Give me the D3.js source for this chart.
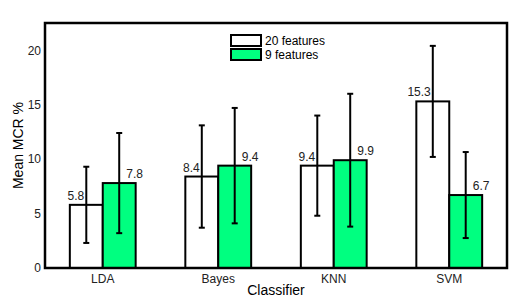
<!DOCTYPE html>
<html>
<head>
<meta charset="utf-8">
<script src="https://d3js.org/d3.v7.min.js"></script>
<style>
  body { margin: 0; background: #fff; }
  text { font-family: "Liberation Sans", Arial, sans-serif; }
</style>
</head>
<body>
<svg width="529" height="301"></svg>
<script>
const classifiers = ["LDA", "Bayes", "KNN", "SVM"];
const seriesNames = ["20 features", "9 features"];
const mean20 = [5.8, 8.4, 9.4, 15.3];
const mean9 = [7.8, 9.4, 9.9, 6.7];
const err20 = [3.5, 4.7, 4.6, 5.1];
const err9 = [4.6, 5.3, 6.1, 3.95];
const yTicks = [0, 5, 10, 15, 20];
const colors = ["#ffffff", "#00ff80"];

const plotL = 45, plotR = 507, plotT = 23, plotB = 268;
const svg = d3.select("svg");

const x = d3.scaleBand().domain(classifiers).range([plotL, plotR])
  .paddingInner(0.43).paddingOuter(0.215);
const xs = d3.scaleBand().domain(seriesNames).range([0, x.bandwidth()]);
const y = d3.scaleLinear().domain([0, 22.5]).range([plotB, plotT]);

const rows = [];
classifiers.forEach((c, i) => {
  rows.push({c: c, s: seriesNames[0], v: mean20[i], e: err20[i], k: 0});
  rows.push({c: c, s: seriesNames[1], v: mean9[i], e: err9[i], k: 1});
});

// bars
svg.append("g").selectAll("rect").data(rows).join("rect")
  .attr("x", d => x(d.c) + xs(d.s))
  .attr("y", d => y(d.v))
  .attr("width", xs.bandwidth())
  .attr("height", d => y(0) - y(d.v))
  .attr("fill", d => colors[d.k])
  .attr("stroke", "#000")
  .attr("stroke-width", 2);

// error bars
const eb = svg.append("g").attr("stroke", "#000").attr("stroke-width", 2);
rows.forEach(d => {
  const cx = x(d.c) + xs(d.s) + xs.bandwidth() / 2;
  eb.append("line").attr("x1", cx).attr("x2", cx).attr("y1", y(d.v + d.e)).attr("y2", y(d.v - d.e));
  eb.append("line").attr("x1", cx - 3).attr("x2", cx + 3).attr("y1", y(d.v + d.e)).attr("y2", y(d.v + d.e));
  eb.append("line").attr("x1", cx - 3).attr("x2", cx + 3).attr("y1", y(d.v - d.e)).attr("y2", y(d.v - d.e));
});

// value labels
svg.append("g").selectAll("text").data(rows).join("text")
  .attr("x", d => {
    const cx = x(d.c) + xs(d.s) + xs.bandwidth() / 2;
    return d.k === 0 ? cx - 2 : cx + 7;
  })
  .attr("y", d => y(d.v) - 5)
  .attr("text-anchor", d => d.k === 0 ? "end" : "start")
  .attr("font-size", 12)
  .attr("fill", "#222")
  .text(d => d.v.toFixed(1));

// frame
svg.append("rect").attr("x", plotL).attr("y", plotT)
  .attr("width", plotR - plotL).attr("height", plotB - plotT)
  .attr("fill", "none").attr("stroke", "#000").attr("stroke-width", 2.5);

// axes
const ya = svg.append("g").attr("transform", `translate(${plotL},0)`)
  .call(d3.axisLeft(y).tickValues(yTicks).tickSize(0).tickPadding(4));
ya.select(".domain").remove();
ya.selectAll("text").attr("font-size", 12).attr("font-family", "Liberation Sans, Arial, sans-serif").attr("fill", "#222");

const xa = svg.append("g").attr("transform", `translate(0,${plotB})`)
  .call(d3.axisBottom(x).tickSize(0).tickPadding(6));
xa.select(".domain").remove();
xa.selectAll("text").attr("font-size", 12).attr("font-family", "Liberation Sans, Arial, sans-serif").attr("fill", "#222");

svg.append("text").attr("x", (plotL + plotR) / 2).attr("y", 295)
  .attr("text-anchor", "middle").attr("font-size", 14).text("Classifier");
svg.append("text").attr("transform", `translate(23,${(plotT + plotB) / 2}) rotate(-90)`)
  .attr("text-anchor", "middle").attr("font-size", 14).text("Mean MCR %");

// legend
const lg = svg.append("g").attr("transform", "translate(231,35)");
seriesNames.forEach((s, i) => {
  lg.append("rect").attr("x", 0).attr("y", i * 14).attr("width", 30).attr("height", 11)
    .attr("fill", colors[i]).attr("stroke", "#000").attr("stroke-width", 2);
  lg.append("text").attr("x", 34).attr("y", i * 14 + 10).attr("font-size", 12).text(s);
});
</script>
</body>
</html>
